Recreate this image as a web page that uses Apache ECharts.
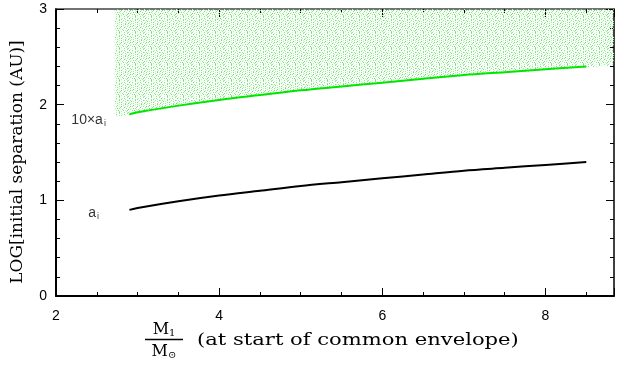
<!DOCTYPE html>
<html>
<head>
<meta charset="utf-8">
<script src="https://cdn.jsdelivr.net/npm/echarts@6/dist/echarts.min.js"></script>
<style>
html, body { margin: 0; padding: 0; background: #fff; }
#main { width: 617px; height: 366px; }
</style>
</head>
<body>
<div id="main"></div>
<script>
// M1/Msun 取值点
var massX = [2.9, 3.0, 3.5, 4.0, 4.5, 5.0, 5.5, 6.0, 6.5, 7.0, 7.5, 8.0, 8.5];
// log a_i (黑线)
var aiY = [0.90, 0.92, 0.99, 1.05, 1.10, 1.15, 1.19, 1.23, 1.27, 1.31, 1.34, 1.37, 1.40];
// log 10*a_i (绿线)
var tenAiY = [1.90, 1.92, 1.99, 2.05, 2.10, 2.15, 2.19, 2.23, 2.27, 2.31, 2.34, 2.37, 2.40];
// 绿色点云的下边界
var cloudX = [2.72, 2.9, 3.5, 4.0, 5.0, 6.0, 7.0, 8.0, 8.5, 8.84];
var cloudLow = [1.88, 1.89, 1.98, 2.04, 2.14, 2.22, 2.30, 2.36, 2.39, 2.41];
var xTicks = [2, 4, 6, 8];
var yTicks = [0, 1, 2, 3];
var curveLabels = [
    { x: 2.40, y: 1.84, base: '10×a', sub: 'i' },
    { x: 2.46, y: 0.87, base: 'a', sub: 'i' }
];

function zip(xs, ys) {
    var out = [];
    for (var i = 0; i < xs.length; i++) out.push([xs[i], ys[i]]);
    return out;
}

/* 点云纹理: 小的重复贴图 */
function makeSpeckle() {
    var tile = [
        "a...b..c....a..b",
        "..b....a.b.....a",
        ".c..a.....b.c...",
        "....b..a.c...b..",
        "b.a....c...a...c",
        "...c.b....b..a..",
        ".a.....a.c....b.",
        "c..b.a.....b.a..",
        "..a....b.a...c.b",
        "b....c.....a....",
        "..c.a..b.c...b.a",
        ".a......a...c...",
        "...b.c.a...b..a.",
        "c.a.....b.a.....",
        "....a.c....c.b.c",
        ".b.....a.b....a."
    ];
    var cols = { a: '#8eee8e', b: '#c0f6c0', c: '#66e466' };
    var cv = document.createElement('canvas');
    cv.width = 16; cv.height = 16;
    var ctx = cv.getContext('2d');
    for (var r = 0; r < tile.length; r++) {
        for (var c = 0; c < tile[r].length; c++) {
            var ch = tile[r].charAt(c);
            if (cols[ch]) { ctx.fillStyle = cols[ch]; ctx.fillRect(c, r, 1, 1); }
        }
    }
    return cv;
}

var myChart = echarts.init(document.getElementById('main'));
var serifFont = '"DejaVu Serif", "Liberation Serif", serif';
var sansFont = '"Liberation Sans", Arial, sans-serif';

function xAxisDef(pos, interval, len, labels, line) {
    return {
        type: 'value', position: pos, min: 2, max: 8.84, interval: interval,
        axisLine: { show: line, onZero: false, lineStyle: { color: pos === 'bottom' ? '#000' : '#444', width: pos === 'bottom' ? 2 : 1.5 } },
        axisTick: { show: true, inside: true, length: len, lineStyle: { color: '#000', width: 1 } },
        axisLabel: labels ? {
            show: true, margin: 13, fontSize: 14, color: '#000', fontFamily: sansFont,
            formatter: function (v) { return xTicks.indexOf(v) >= 0 ? String(v) : ''; }
        } : { show: false },
        splitLine: { show: false }
    };
}

function yAxisDef(pos, labels) {
    return {
        type: 'value', position: pos, min: 0, max: 3, interval: 1,
        axisLine: { show: true, onZero: false, lineStyle: { color: '#000', width: pos === 'left' ? 2 : 1.5 } },
        axisTick: { show: true, inside: true, length: 8, lineStyle: { color: '#000', width: 1 } },
        minorTick: { show: true, splitNumber: 5, length: 4, lineStyle: { color: '#000', width: 1 } },
        axisLabel: labels ? {
            show: true, margin: 9, fontSize: 14, color: '#000', fontFamily: sansFont,
            formatter: function (v) { return yTicks.indexOf(v) >= 0 ? String(v) : ''; }
        } : { show: false },
        splitLine: { show: false },
        minorSplitLine: { show: false }
    };
}

myChart.setOption({
    animation: false,
    backgroundColor: '#fff',
    grid: { left: 56, right: -1, top: 9, bottom: 70, containLabel: false },
    xAxis: [
        xAxisDef('bottom', 0.5, 4, true, true),
        xAxisDef('bottom', 2, 8, false, false),
        xAxisDef('top', 0.5, 4, false, true),
        xAxisDef('top', 2, 8, false, false)
    ],
    yAxis: [
        yAxisDef('left', true),
        yAxisDef('right', false)
    ],
    series: [
        {
            name: 'cloud', type: 'line', xAxisIndex: 0, yAxisIndex: 0,
            data: zip(cloudX, cloudLow),
            symbol: 'none', silent: true,
            lineStyle: { width: 0, opacity: 0 },
            areaStyle: { origin: 'end', opacity: 1, color: { image: makeSpeckle(), repeat: 'repeat' } },
            z: 1
        },
        {
            name: '10×a_i', type: 'line', xAxisIndex: 0, yAxisIndex: 0,
            data: zip(massX, tenAiY), symbol: 'none', smooth: 0.3,
            lineStyle: { color: '#00e600', width: 2 }, z: 3
        },
        {
            name: 'a_i', type: 'line', xAxisIndex: 0, yAxisIndex: 0,
            data: zip(massX, aiY), symbol: 'none', smooth: 0.3,
            lineStyle: { color: '#000', width: 2 }, z: 3
        },
        {
            name: 'labels', type: 'scatter', xAxisIndex: 0, yAxisIndex: 0,
            symbolSize: 0, silent: true,
            data: curveLabels.map(function (d) { return [d.x, d.y]; }),
            label: {
                show: true, position: 'inside',
                formatter: function (p) { return '{b|' + curveLabels[p.dataIndex].base + '}{s|' + curveLabels[p.dataIndex].sub + '}'; },
                rich: {
                    b: { fontSize: 14, color: '#000', fontFamily: sansFont },
                    s: { fontSize: 9, color: '#000', fontFamily: sansFont, padding: [8, 0, 0, 1] }
                }
            },
            z: 4
        }
    ],
    graphic: [
        {
            type: 'text', x: 18, y: 162, rotation: Math.PI / 2, scaleX: 1.06,
            style: {
                text: 'LOG[initial separation (AU)]', font: '16px ' + serifFont,
                fill: '#000', textAlign: 'center', textVerticalAlign: 'middle'
            }
        },
        {
            type: 'text', x: 164, y: 330,
            style: {
                text: '{m|M}{s|1}', fill: '#000', textAlign: 'center', textVerticalAlign: 'middle',
                rich: {
                    m: { fontSize: 16, fontFamily: serifFont },
                    s: { fontSize: 10, fontFamily: serifFont, padding: [6, 0, 0, 0] }
                }
            }
        },
        {
            type: 'line', shape: { x1: 145, y1: 339.5, x2: 183, y2: 339.5 },
            style: { stroke: '#000', lineWidth: 1.5 }
        },
        {
            type: 'text', x: 164, y: 352,
            style: {
                text: '{m|M}{s|⊙}', fill: '#000', textAlign: 'center', textVerticalAlign: 'middle',
                rich: {
                    m: { fontSize: 16, fontFamily: serifFont },
                    s: { fontSize: 10, fontFamily: serifFont, padding: [6, 0, 0, 0] }
                }
            }
        },
        {
            type: 'text', x: 197, y: 341, scaleX: 1.24,
            style: {
                text: '(at start of common envelope)', font: '17px ' + serifFont,
                fill: '#000', textAlign: 'left', textVerticalAlign: 'middle'
            }
        }
    ]
});
</script>
</body>
</html>
